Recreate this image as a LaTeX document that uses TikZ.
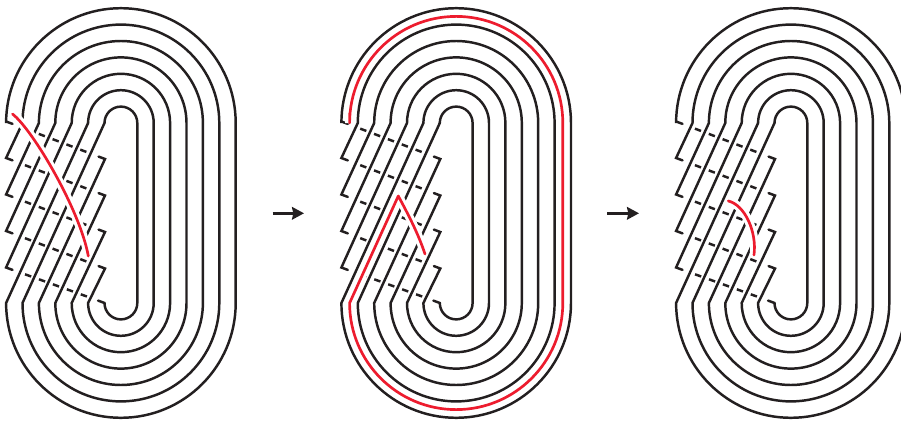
\documentclass[tikz,border=0pt]{standalone}
\usepackage{xcolor}
\usepackage{tikz}
\usetikzlibrary{arrows.meta}
\definecolor{knotblack}{HTML}{231F20}
\definecolor{knotred}{HTML}{ED1C2E}
\tikzset{
  knotline/.style={draw=knotblack,line width=1.85pt,line cap=round,miter limit=10},
  underline/.style={draw=knotblack,line width=1.85pt,
    dash pattern=on 0pt off 15.1pt on 4.9pt off 6.2pt on 4.9pt off 6.2pt on 4.9pt off 6.2pt on 4.9pt off 6.2pt on 4.9pt off 100pt},
  redline/.style={draw=knotred,line width=2pt,line cap=round,line join=round,
    preaction={draw=white,line width=6.6pt,line cap=butt}},
  movearrow/.style={draw=knotblack,line width=1.8pt,-{Stealth[length=9pt,width=9.5pt,inset=1pt]}}
}

\begin{document}
\begin{tikzpicture}[x=0.75pt,y=0.75pt,line join=miter]
  \clip (0,0) rectangle (901,-421);
  \foreach \dx in {0,335.3,670} {
    \begin{scope}[shift={(\dx,0)}]
      \foreach \ya/\yb in {121.5/159,158/195.5,194.5/232,231/268.5,267.5/303}
        \draw[underline] (6.1,-\ya) -- (105,-\yb);
      \foreach \k/\hd/\tl [evaluate=\k as \r using 114.8-16.4*\k] in {
          0/{(12.5,-123.9) -- (6.1,-121.5)}/{(88.1,-123)},
          1/{(12.5,-160.4) -- (6.1,-158)}/{(104.5,-123)},
          2/{(12.5,-196.9) -- (6.1,-194.5)}/{(105,-159) -- (98.6,-156.6)},
          3/{(12.5,-233.4) -- (6.1,-231)}/{(105,-195.5) -- (98.6,-193.1)},
          4/{(12.5,-269.9) -- (6.1,-267.5)}/{(105,-232) -- (98.6,-229.6)},
          5/{(88.1,-123)}/{(105,-268.5) -- (98.6,-266.1)},
          6/{(104.5,-123)}/{(98.1,-300.6)}}
        \draw[knotline] \hd -- ({120.9-\r},-123) arc[start angle=180,end angle=0,radius=\r]
          -- ++(0,-180) arc[start angle=0,end angle=-180,radius=\r] -- \tl;
    \end{scope}
  }
  \draw[redline] (12.5,-114) .. controls (33,-130) and (80,-210) .. (88.3,-256);
  \draw[redline] (349.6,-113) -- (349.6,-123) arc[start angle=180,end angle=0,radius=106.6]
    -- ++(0,-180) arc[start angle=0,end angle=-180,radius=106.6]
    -- (398.3,-196) .. controls (408,-214) and (418,-233) .. (425,-254);
  \draw[redline] (728.3,-201) .. controls (745,-205) and (757,-232) .. (754,-255);
  \coordinate (arrowA) at (272.7,-213.3);
  \coordinate (arrowB) at (304,-213.3);
  \coordinate (arrowC) at (607,-213.3);
  \coordinate (arrowD) at (639,-213.3);
  \draw[movearrow] (arrowA) -- (arrowB);
  \draw[movearrow] (arrowC) -- (arrowD);
\end{tikzpicture}
\end{document}
